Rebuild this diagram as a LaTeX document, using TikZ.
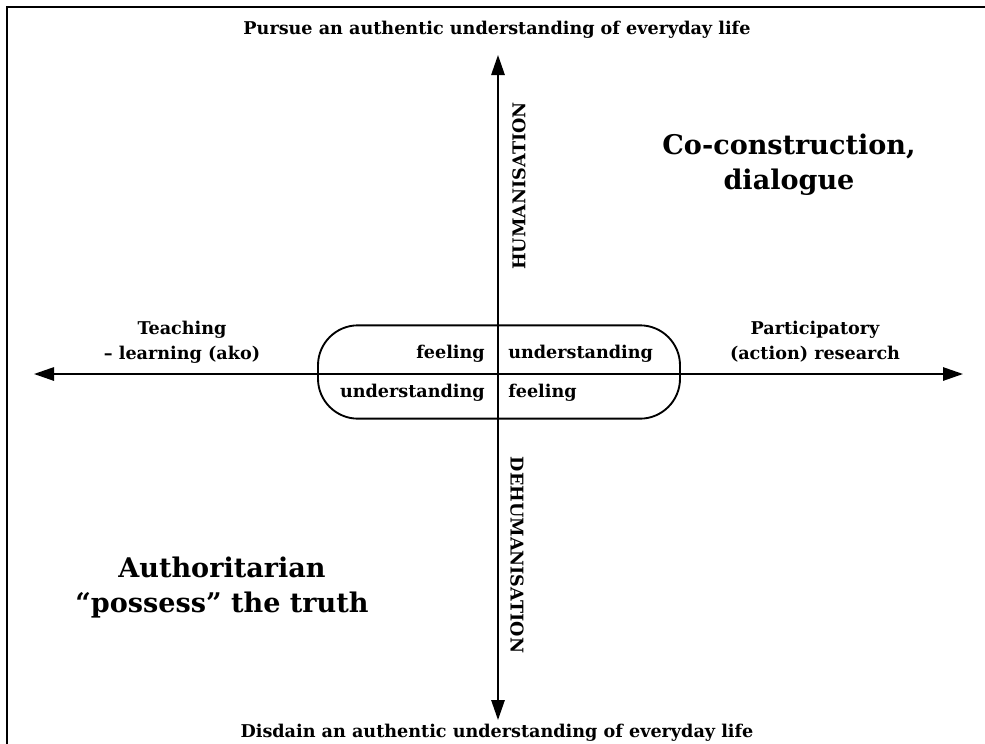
\documentclass[tikz,border=0pt]{standalone}
\usepackage{fontspec}
\setmainfont{DejaVu Serif}
\usetikzlibrary{arrows.meta}
\begin{document}
\begin{tikzpicture}[x=0.75pt,y=-0.75pt,
  lbl/.style={font=\bfseries\fontsize{13.2}{16}\selectfont, inner sep=0pt},
  big/.style={font=\bfseries\fontsize{20.3}{26}\selectfont, inner sep=0pt, align=center},
  two/.style={font=\bfseries\fontsize{13.2}{18.5}\selectfont, inner sep=0pt, align=center},
  axis/.style={line width=1.4pt, -{Triangle[length=15pt,width=10pt]}},
  frame/.style={line width=2pt}]
\useasboundingbox (0,0) rectangle (985,743);
% frame
\coordinate (fbl) at (7,745);
\coordinate (ftl) at (7,7);
\coordinate (ftr) at (987,7);
\draw[frame] (fbl) -- (ftl) -- (ftr);
% axes
\coordinate (o) at (498,374);
\coordinate (top) at (498,55);
\coordinate (bot) at (498,720);
\coordinate (lft) at (34,374);
\coordinate (rgt) at (963,374);
\draw[axis] (o) -- (top);
\draw[axis] (o) -- (bot);
\draw[axis] (o) -- (lft);
\draw[axis] (o) -- (rgt);
% rounded box
\node[draw, line width=1.4pt, minimum width=271.5pt, minimum height=70pt,
      rounded corners=30pt, inner sep=0pt] (box) at (499,372) {};
% quadrant words
\node[lbl, anchor=base east] (f1) at (485,358) {feeling};
\node[lbl, anchor=base west] (u1) at (508,358) {understanding};
\node[lbl, anchor=base east] (u2) at (485,397) {understanding};
\node[lbl, anchor=base west] (f2) at (508,397) {feeling};
% axis labels
\node[lbl, anchor=base] (pursue) at (497,34) {Pursue an authentic understanding of everyday life};
\node[lbl, anchor=base] (disdain) at (497,737) {Disdain an authentic understanding of everyday life};
\node[lbl, rotate=90] (hum) at (519,186) {HUMANISATION};
\node[lbl, rotate=-90] (dehum) at (517,555) {DEHUMANISATION};
\node[two, anchor=base] (teach) at (182,359) {Teaching\\– learning (ako)};
\node[two, anchor=base] (part) at (815,359) {Participatory\\(action) research};
% quadrant titles
\node[big, anchor=base] (co) at (789,189) {Co-construction,\\dialogue};
\node[big, anchor=base] (auth) at (222,612) {Authoritarian\\“possess” the truth};
\end{tikzpicture}
\end{document}
